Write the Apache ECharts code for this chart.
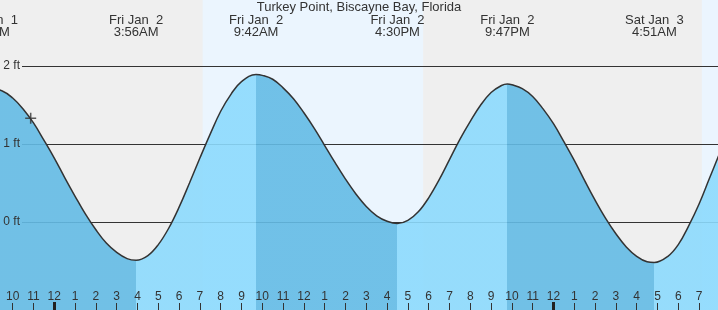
<!DOCTYPE html>
<html><head><meta charset="utf-8">
<script src="https://cdn.jsdelivr.net/npm/echarts@6/dist/echarts.min.js"></script>
<style>html,body{margin:0;padding:0;background:#efefef}#c{width:718px;height:310px}</style>
</head><body><div id="c"></div>
<script>
const chartTitle = 'Turkey Point, Biscayne Bay, Florida';
// time in hours since Fri Jan 2, 00:00 ; height in ft
const hours   = [-4, -3.5, -3.22, -2.5, -2, -1.5, -1, -0.5, 0, 0.5, 1, 1.5, 2, 2.5, 3, 3.5, 3.933, 4.5, 5, 5.5, 6, 6.5, 7, 7.5, 8, 8.5, 9, 9.7, 10, 10.5, 11, 11.5, 12, 12.5, 13, 13.5, 14, 14.5, 15, 15.5, 16, 16.5, 17, 17.5, 18, 18.5, 19, 19.5, 20, 20.5, 21, 21.5, 21.783, 22, 22.5, 23, 23.5, 24, 24.5, 25, 25.5, 26, 26.5, 27, 27.5, 28, 28.5, 28.85, 29.5, 30, 30.5, 31, 31.5, 32];
const heights = [1.67, 1.71, 1.72, 1.68, 1.59, 1.45, 1.27, 1.05, 0.82, 0.57, 0.33, 0.10, -0.10, -0.27, -0.39, -0.47, -0.49, -0.43, -0.29, -0.08, 0.19, 0.50, 0.82, 1.13, 1.42, 1.64, 1.80, 1.89, 1.88, 1.83, 1.72, 1.58, 1.40, 1.20, 0.98, 0.76, 0.55, 0.36, 0.20, 0.08, 0.01, -0.02, 0.02, 0.13, 0.31, 0.54, 0.80, 1.06, 1.29, 1.50, 1.66, 1.75, 1.77, 1.76, 1.71, 1.61, 1.45, 1.26, 1.03, 0.79, 0.53, 0.28, 0.05, -0.15, -0.32, -0.44, -0.51, -0.52, -0.44, -0.29, -0.05, 0.23, 0.56, 0.89];
const eventHours = [-3.22, 3.933, 9.7, 16.5, 21.783, 28.85];
const eventTypes = ['H', 'L', 'H', 'L', 'H', 'L'];
const eventDays  = ['Thu Jan  1', 'Fri Jan  2', 'Fri Jan  2', 'Fri Jan  2', 'Fri Jan  2', 'Sat Jan  3'];
const eventTimes = ['8:47PM', '3:56AM', '9:42AM', '4:30PM', '9:47PM', '4:51AM'];
const sunrise = [7.133, 31.133];
const sunset  = [17.733, 41.75];
const hourTicks = [-4, -3, -2, -1, 0, 1, 2, 3, 4, 5, 6, 7, 8, 9, 10, 11, 12, 13, 14, 15, 16, 17, 18, 19, 20, 21, 22, 23, 24, 25, 26, 27, 28, 29, 30, 31];
const midnightTicks = [0, 24];
const levelTicks = [0, 1, 2];
const currentTime = [-1.135, 1.33];

const X_MIN = -4, X_MAX = 31.91, Y_MIN = -1.128, Y_MAX = 2.846;
const FALLING = '#63bbe5', RISING = '#8cdafd';
const TXT = '#333';
const FONT = "'Liberation Sans', Arial, sans-serif";

const series = hours.map((h, i) => [h, heights[i]]);
const pieces = [{ lt: eventHours[0], color: eventTypes[0] === 'H' ? RISING : FALLING }];
eventHours.forEach((h, i) => {
  const p = { gte: h, color: eventTypes[i] === 'H' ? FALLING : RISING };
  if (i < eventHours.length - 1) p.lt = eventHours[i + 1];
  pieces.push(p);
});
const dayAreas = sunrise.map((s, i) => [{ xAxis: s }, { xAxis: sunset[i] }]);

function hourLabel(v) { const h = ((Math.round(v) % 12) + 12) % 12; return String(h === 0 ? 12 : h); }
function eventLabel(v) {
  const i = eventHours.findIndex(e => Math.abs(e - v) < 1e-6);
  return i < 0 ? '' : eventDays[i] + '\n' + eventTimes[i];
}

const chart = echarts.init(document.getElementById('c'), null, { renderer: 'canvas' });
chart.setOption({
  animation: false,
  backgroundColor: '#efefef',
  textStyle: { fontFamily: FONT },
  title: { text: chartTitle, left: 'center', top: 1, padding: 0,
    textStyle: { fontSize: 13, fontWeight: 'normal', color: TXT, fontFamily: FONT, lineHeight: 13 } },
  grid: [
    { left: -28.9, right: 0, top: 0, bottom: 0, containLabel: false, outerBoundsMode: 'none' },
    { left: 22, right: 0, top: 66, bottom: 88, containLabel: false, outerBoundsMode: 'none' }
  ],
  xAxis: [
    { type: 'value', gridIndex: 0, min: X_MIN, max: X_MAX, position: 'bottom', z: 10,
      axisLine: { show: false, onZero: false }, splitLine: { show: false },
      axisTick: { show: true, inside: true, length: 7, customValues: hourTicks, lineStyle: { color: TXT, width: 1 } },
      axisLabel: { show: true, inside: true, margin: 7, customValues: hourTicks, formatter: hourLabel,
        fontSize: 12, color: TXT, fontFamily: FONT, lineHeight: 12 } },
    { type: 'value', gridIndex: 0, min: X_MIN, max: X_MAX, position: 'top', z: 10,
      axisLine: { show: false, onZero: false }, splitLine: { show: false }, axisTick: { show: false },
      axisLabel: { show: true, inside: true, margin: 14, customValues: eventHours, formatter: eventLabel,
        fontSize: 13, lineHeight: 12, color: TXT, fontFamily: FONT, align: 'center' } },
    { type: 'value', gridIndex: 0, min: X_MIN, max: X_MAX, position: 'bottom', z: 11,
      axisLine: { show: false, onZero: false }, splitLine: { show: false }, axisLabel: { show: false },
      axisTick: { show: true, inside: true, length: 8, customValues: midnightTicks, lineStyle: { color: '#222', width: 3 } } },
    { type: 'value', gridIndex: 1, min: 0, max: 1, show: false, axisLine: { onZero: false } }
  ],
  yAxis: [
    { type: 'value', gridIndex: 0, min: Y_MIN, max: Y_MAX, show: false, axisLine: { onZero: false } },
    { type: 'value', gridIndex: 1, min: 0, max: 2, interval: 1, position: 'left', z: 2,
      axisLine: { show: false, onZero: false }, axisTick: { show: false }, axisLabel: { show: false },
      splitLine: { show: true, showMinLine: true, showMaxLine: true, lineStyle: { color: TXT, width: 1 } } },
    { type: 'value', gridIndex: 1, min: 0, max: 2, position: 'left', z: 10,
      axisLine: { show: false, onZero: false }, axisTick: { show: false }, splitLine: { show: false },
      axisLabel: { show: true, margin: 2, customValues: levelTicks, formatter: v => v + ' ft',
        fontSize: 12, color: TXT, fontFamily: FONT } }
  ],
  visualMap: [{ show: false, type: 'piecewise', dimension: 0, seriesIndex: 0, pieces: pieces }],
  series: [
    { type: 'line', xAxisIndex: 0, yAxisIndex: 0, data: series, smooth: 0.4, showSymbol: false, z: 3,
      lineStyle: { width: 0 }, areaStyle: { opacity: 0.9, origin: 'start' }, silent: true },
    { type: 'line', xAxisIndex: 0, yAxisIndex: 0, data: series, smooth: 0.4, showSymbol: false, z: 4,
      lineStyle: { color: TXT, width: 1.5 }, silent: true,
      markArea: { silent: true, z: 1, itemStyle: { color: '#ebf5fe' }, data: dayAreas } },
    { type: 'scatter', xAxisIndex: 0, yAxisIndex: 0, data: [currentTime], z: 12, silent: true,
      symbol: 'path://M4.3,0H5.7V4.3H10V5.7H5.7V10H4.3V5.7H0V4.3H4.3Z', symbolSize: 11,
      itemStyle: { color: TXT } }
  ]
});
</script></body></html>
